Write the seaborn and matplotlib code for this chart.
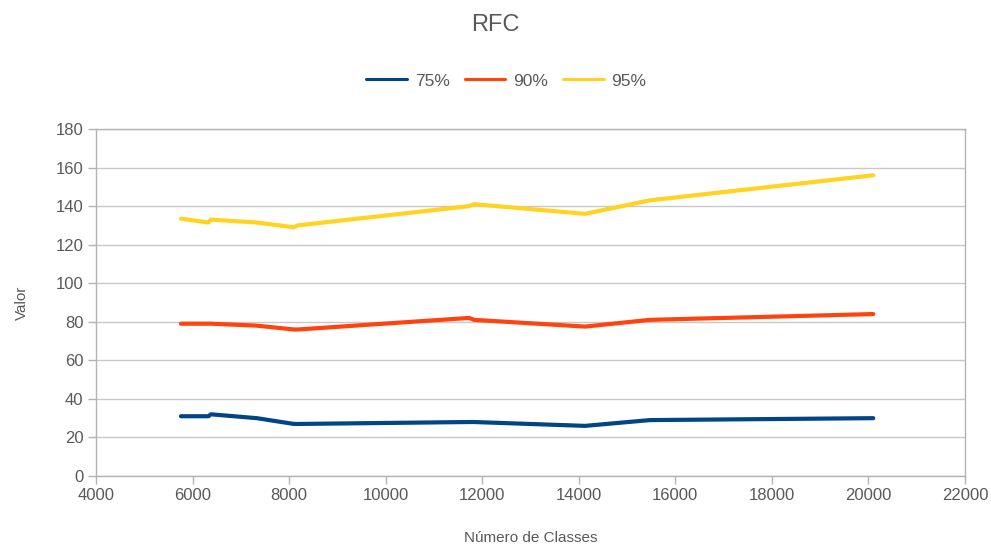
import pandas as pd
import matplotlib.pyplot as plt
from matplotlib.lines import Line2D
import seaborn as sns

# Data
num_classes = [5760, 6330, 6380, 7330, 8100, 8180, 11730, 11830, 14130, 15470, 20100]
valor_75 = [31, 31, 32, 30, 27, 27, 28, 28, 26, 29, 30]
valor_90 = [79, 79, 79, 78, 76, 76, 82, 81, 77.5, 81, 84]
valor_95 = [133.5, 131.5, 133, 131.5, 129, 130, 140, 141, 136, 143, 156]
series_labels = ['75%', '90%', '95%']
series_colors = ['#004586', '#ff420e', '#ffd320']

# Long format for seaborn
frames = []
for label, vals in zip(series_labels, [valor_75, valor_90, valor_95]):
    frames.append(pd.DataFrame({'classes': num_classes, 'valor': vals, 'serie': label}))
df = pd.concat(frames, ignore_index=True)

sns.set_theme(style='white')
plt.rcParams['font.family'] = ['Liberation Sans', 'DejaVu Sans']
text_color = '#595959'
grid_color = '#c8c8c8'
spine_color = '#b3b3b3'

fig = plt.figure(figsize=(9.91, 5.47), dpi=100)
ax = fig.add_axes([96 / 991, 1 - 476 / 547, (965 - 96) / 991, (476 - 129) / 547])

sns.lineplot(data=df, x='classes', y='valor', hue='serie', palette=series_colors,
             sort=False, linewidth=3, legend=False, ax=ax)

ax.set_xlim(4000, 22000)
ax.set_ylim(0, 180)
ax.set_xticks(range(4000, 22001, 2000))
ax.set_yticks(range(0, 181, 20))
ax.yaxis.grid(True, color=grid_color, linewidth=1)
ax.set_axisbelow(True)
for spine in ax.spines.values():
    spine.set_color(spine_color)
    spine.set_linewidth(1)
ax.tick_params(axis='both', which='both', direction='out', length=6, width=1,
               color=spine_color, labelcolor=text_color, labelsize=12, pad=3,
               bottom=True, left=True)

ax.set_xlabel('Número de Classes', fontsize=11, color=text_color, labelpad=20)
ax.set_ylabel('Valor', fontsize=11, color=text_color, labelpad=19)

fig.suptitle('RFC', fontsize=17, color=text_color, y=0.975)

handles = [Line2D([0], [0], color=c, linewidth=2.2) for c in series_colors]
fig.legend(handles, series_labels, loc='center', bbox_to_anchor=(0.511, 1 - 81 / 547),
           ncol=3, frameon=False, fontsize=12.5, labelcolor=text_color,
           handlelength=2.35, columnspacing=0.85, handletextpad=0.45)

fig.savefig('out.png', dpi=100)
plt.close(fig)
